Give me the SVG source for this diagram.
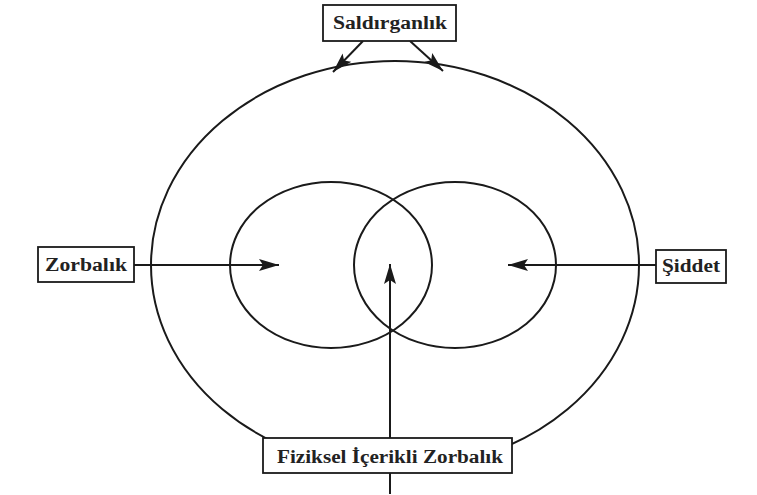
<svg xmlns="http://www.w3.org/2000/svg" width="757" height="495" viewBox="0 0 757 495">
<style>
.shape{fill:none;stroke:#1a1a1a;stroke-width:2}
.conn{fill:none;stroke:#1a1a1a;stroke-width:2}
.box{fill:#fff;stroke:#1a1a1a;stroke-width:1.8}
.lbl{font-family:"Liberation Serif","Times New Roman",serif;font-weight:bold;font-size:18px;fill:#222;text-anchor:middle}
</style>
<defs>
<marker id="arr" markerUnits="userSpaceOnUse" markerWidth="22" markerHeight="14" refX="20" refY="6" orient="auto">
<path d="M0,0 L20,6 L0,12 L4,6 Z" fill="#1a1a1a"/>
</marker>
</defs>
<rect width="757" height="495" fill="#fff"/>
<g id="outer"><ellipse class="shape" cx="395" cy="265" rx="244" ry="204"/></g>
<g id="left-circle"><ellipse class="shape" cx="331" cy="265" rx="101" ry="83"/></g>
<g id="right-circle"><ellipse class="shape" cx="455" cy="265" rx="101" ry="83"/></g>
<g id="connectors">
<line class="conn" x1="363" y1="41" x2="333" y2="72" marker-end="url(#arr)"/>
<line class="conn" x1="410" y1="41" x2="443" y2="71" marker-end="url(#arr)"/>
<line class="conn" x1="134" y1="265" x2="279" y2="265" marker-end="url(#arr)"/>
<line class="conn" x1="656" y1="265" x2="508" y2="265" marker-end="url(#arr)"/>
<line class="conn" x1="390" y1="494" x2="390" y2="264" marker-end="url(#arr)"/>
</g>
<g id="saldirganlik">
<rect class="box" x="323" y="5" width="133" height="36"/>
<text class="lbl" x="390" y="29" textLength="114" lengthAdjust="spacingAndGlyphs">Saldırganlık</text>
</g>
<g id="zorbalik">
<rect class="box" x="38" y="247" width="96" height="35"/>
<text class="lbl" x="86" y="271" textLength="82" lengthAdjust="spacingAndGlyphs">Zorbalık</text>
</g>
<g id="siddet">
<rect class="box" x="656" y="250" width="70" height="33"/>
<text class="lbl" x="691" y="272" textLength="58" lengthAdjust="spacingAndGlyphs">Şiddet</text>
</g>
<g id="fiziksel">
<rect class="box" x="263" y="438" width="249" height="35"/>
<text class="lbl" x="390" y="463" textLength="226" lengthAdjust="spacingAndGlyphs">Fiziksel İçerikli Zorbalık</text>
</g>
</svg>
